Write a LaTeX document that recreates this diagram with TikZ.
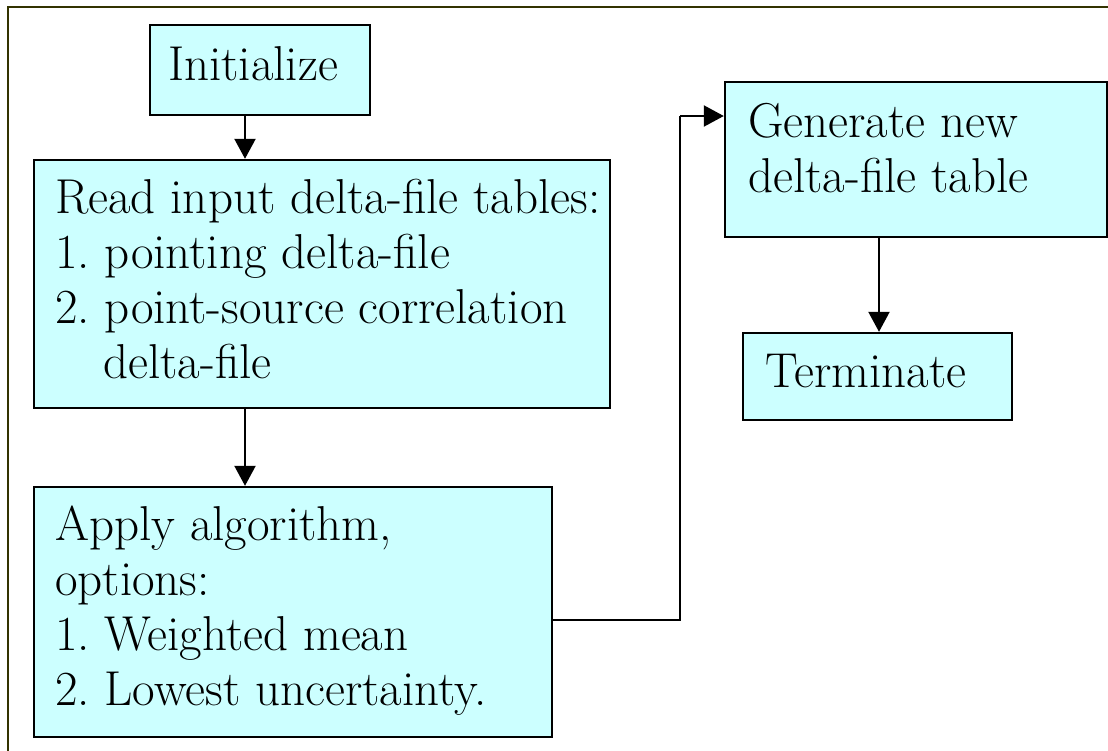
\documentclass[tikz,border=0pt]{standalone}
\usetikzlibrary{arrows.meta}
\definecolor{boxfill}{HTML}{CCFFFF}
\definecolor{framecol}{HTML}{333300}
\tikzset{
  box/.style={draw=black, line width=2.4pt, fill=boxfill, inner sep=0pt},
  lbl/.style={anchor=base west, inner sep=0pt, font=\fontsize{49}{55}\selectfont\frenchspacing, align=left},
  arr/.style={line width=2.2pt, -{Triangle[length=20pt,width=21pt]}},
  conn/.style={line width=2.2pt}
}
\begin{document}
\frenchspacing
\begin{tikzpicture}[x=1pt,y=-1pt]
\useasboundingbox (0,0) rectangle (1108,750);
% outer frame
\draw[framecol, line width=2.8pt] (8,752) -- (8,7) -- (1110,7);
% boxes
\node[box, minimum width=220pt, minimum height=90pt] (init) at (260,70) {};
\node[box, minimum width=576pt, minimum height=248pt] (read) at (322,284) {};
\node[box, minimum width=518pt, minimum height=250pt] (apply) at (293,612) {};
\node[box, minimum width=382pt, minimum height=155pt] (gen) at (916,159.5) {};
\node[box, minimum width=269pt, minimum height=87pt] (term) at (877.5,376.5) {};
% texts
\node[lbl] (tinit) at (168,80) {Initialize};
\node[lbl] (tread1) at (55,213) {Read input delta-file tables:};
\node[lbl] (tread2) at (55,268) {1. pointing delta-file};
\node[lbl] (tread3) at (55,323) {2. point-source correlation};
\node[lbl] (tread4) at (103,378) {delta-file};
\node[lbl] (tapp1) at (55,540) {Apply algorithm,};
\node[lbl] (tapp2) at (55,595) {options:};
\node[lbl] (tapp3) at (55,650) {1. Weighted mean};
\node[lbl] (tapp4) at (55,705) {2. Lowest uncertainty.};
\node[lbl] (tgen1) at (748,137) {Generate new};
\node[lbl] (tgen2) at (748,192) {delta-file table};
\node[lbl] (tterm) at (765,387) {Terminate};
% connectors
\coordinate (ax) at (245,0);
\coordinate (gx) at (879,0);
\coordinate (bend) at (680,116);
\draw[arr] (ax |- init.south) -- (ax |- read.north);
\draw[arr] (ax |- read.south) -- (ax |- apply.north);
\draw[conn] ([yshift=-8pt]apply.east) -| (bend);
\draw[arr] (bend) -- (bend -| gen.west);
\draw[arr] (gx |- gen.south) -- (gx |- term.north);
\end{tikzpicture}
\end{document}
